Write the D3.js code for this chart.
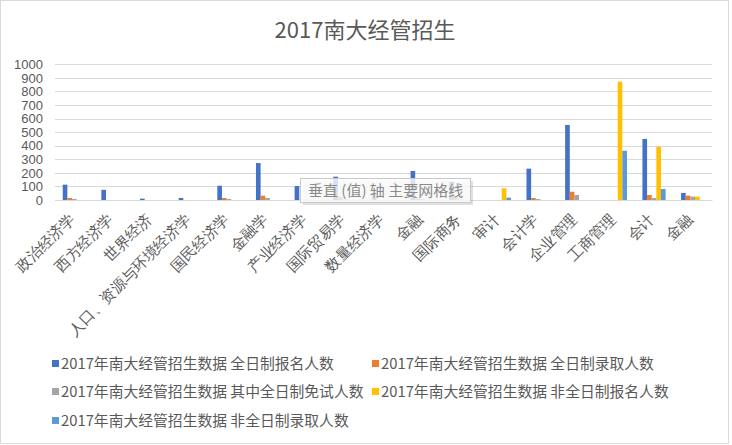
<!DOCTYPE html>
<html><head><meta charset="utf-8">
<script src="https://cdn.jsdelivr.net/npm/d3@7"></script>
<style>
html,body{margin:0;padding:0;background:#fff;}
svg{display:block;font-family:"Noto Sans CJK SC","Noto Sans",sans-serif;}
</style></head>
<body><svg id="c" width="732" height="445"></svg>
<script>
const title = "2017南大经管招生";
const categories = ["政治经济学","西方经济学","世界经济","人口、资源与环境经济学","国民经济学","金融学","产业经济学","国际贸易学","数量经济学","金融","国际商务","审计","会计学","企业管理","工商管理","会计","金融"];
const seriesNames = ["2017年南大经管招生数据 全日制报名人数","2017年南大经管招生数据 全日制录取人数","2017年南大经管招生数据 其中全日制免试人数","2017年南大经管招生数据 非全日制报名人数","2017年南大经管招生数据 非全日制录取人数"];
const fullApply   = [113, 75, 10, 15, 105, 272, 103, 172, 32, 214, 135, 0, 231, 553, 0, 450, 52];
const fullAdmit   = [15, 0, 0, 0, 15, 32, 3, 25, 0, 18, 18, 0, 15, 61, 0, 37, 32];
const fullExempt  = [8, 0, 0, 0, 8, 15, 2, 5, 0, 8, 5, 0, 7, 37, 0, 15, 25];
const partApply   = [0, 0, 0, 0, 0, 0, 0, 0, 0, 0, 0, 86, 0, 0, 872, 393, 25];
const partAdmit   = [0, 0, 0, 0, 0, 0, 0, 0, 0, 0, 0, 17, 0, 0, 363, 81, 0];
const yTicks = [0,100,200,300,400,500,600,700,800,900,1000];
const colors = ["#4472C4","#ED7D31","#A5A5A5","#FFC000","#5B9BD5"];
const tooltipText = "垂直 (值) 轴 主要网格线";

const series = [fullApply, fullAdmit, fullExempt, partApply, partAdmit];
const svg = d3.select("#c");
const pLeft = 55, pRight = 712, pTop = 64.3, pBottom = 200;

svg.append("rect").attr("x",0.5).attr("y",0.5).attr("width",728).attr("height",443)
  .attr("fill","#fff").attr("stroke","#d9d9d9");

svg.append("text").attr("x",365).attr("y",38).attr("text-anchor","middle")
  .attr("font-size",22).attr("fill","#595959").text(title);

const x = d3.scaleBand().domain(d3.range(categories.length)).range([pLeft,pRight]).padding(0);
const gw = x.bandwidth()*0.6;
const xs = d3.scaleBand().domain(d3.range(series.length)).range([0,gw]).padding(0);
const y = d3.scaleLinear().domain([0,1000]).range([pBottom,pTop]);

svg.append("g").selectAll("line").data(yTicks).join("line")
  .attr("x1",pLeft).attr("x2",pRight)
  .attr("y1",d=>Math.round(y(d))+0.5).attr("y2",d=>Math.round(y(d))+0.5)
  .attr("stroke","#d9d9d9").attr("stroke-width",1);

const yAxis = d3.axisLeft(y).tickValues(yTicks).tickFormat(d3.format("d")).tickSize(0).tickPadding(0);
const ya = svg.append("g").attr("transform",`translate(43,0)`).call(yAxis);
ya.select(".domain").remove();
ya.selectAll("text").attr("font-size",13).attr("fill","#595959")
  .attr("font-family","'Liberation Sans','Noto Sans',sans-serif");

series.forEach((vals,si)=>{
  svg.append("g").selectAll("rect").data(vals).join("rect")
    .attr("x",(d,i)=>x(i)+(x.bandwidth()-gw)/2+xs(si))
    .attr("width",xs.bandwidth())
    .attr("y",d=>y(d))
    .attr("height",d=>pBottom-y(d))
    .attr("fill",colors[si]);
});

const xAxis = d3.axisBottom(x).tickFormat(i=>categories[i]).tickSize(0).tickPadding(0);
const xa = svg.append("g").attr("transform",`translate(0,${pBottom})`).call(xAxis);
xa.select(".domain").attr("stroke","#d9d9d9");
xa.selectAll("text").attr("font-size",15).attr("fill","#595959")
  .attr("text-anchor","end").attr("dy",0)
  .attr("transform","translate(1,20) rotate(-45)");

const tt = svg.append("g").attr("transform","translate(300,178)");
tt.append("rect").attr("x",3).attr("y",3).attr("width",170).attr("height",24).attr("fill","#000").attr("opacity",0.12);
tt.append("rect").attr("x",0.5).attr("y",0.5).attr("width",170).attr("height",24)
  .attr("fill","#fff").attr("fill-opacity",0.8).attr("stroke","#c8c8c8");
tt.append("text").attr("x",8).attr("y",18).attr("font-size",15).attr("fill","#8a8a8a").text(tooltipText);

const legPos = [[52,364],[372,364],[52,392],[372,392],[52,421]];
const lg = svg.append("g");
seriesNames.forEach((n,i)=>{
  const [lx,ly] = legPos[i];
  lg.append("rect").attr("x",lx).attr("y",ly-4).attr("width",7).attr("height",7).attr("fill",colors[i]);
  lg.append("text").attr("x",lx+9).attr("y",ly+5).attr("font-size",14.8).attr("fill","#595959").text(n);
});
</script></body></html>
